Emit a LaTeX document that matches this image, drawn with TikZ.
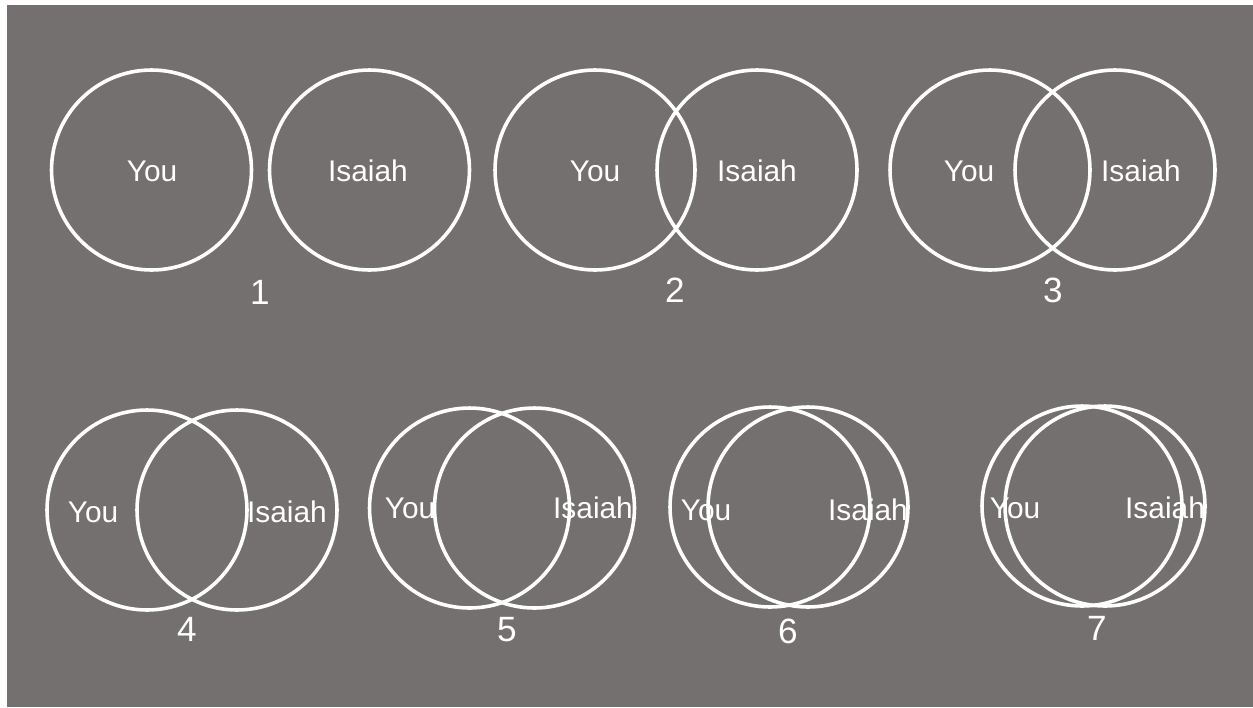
\documentclass[tikz,border=0pt]{standalone}
\usepackage{fontspec}
\setmainfont{Liberation Sans}
\usepackage{tikz}
\usetikzlibrary{positioning}
\definecolor{slate}{RGB}{116,112,111}

\begin{document}
\begin{tikzpicture}[x=0.02cm,y=-0.02cm,
  ring/.style={draw=white,line width=0.072cm,circle,minimum size=4cm,inner sep=0pt},
  person/.style={text=white,inner sep=0pt,font=\fontsize{17}{20}\selectfont},
  stagenum/.style={text=white,inner sep=0pt,font=\fontsize{20}{24}\selectfont}]
\useasboundingbox (0,0) rectangle (1253,707);
\fill[white] (0,0) rectangle (1253,707);
\fill[slate] (7,5) rectangle (1253,707);
% one panel per stage: circle centres, label positions, number
\foreach \k/\cy/\lx/\rx/\ty/\yx/\ix/\nx/\ny in {
  1/170/151.5/369.5/171/152/368/260/292,
  2/170/595/757/171/595/757/675/290,
  3/170/990/1115/171/969/1141/1053/290,
  4/510/147/237/512/93/287/187/629,
  5/508/469.5/534.5/508/410/593/507/630,
  6/507/770/808/510/706/868/788/631,
  7/506/1082/1105/508/1015/1165/1097/628}{
  \node[ring] (cyou\k) at (\lx,\cy) {};
  \node[ring] (cisa\k) at (\rx,\cy) {};
  \node[person] (you\k) at (\yx,\ty) {You};
  \node[person] (isa\k) at (\ix,\ty) {Isaiah};
  \node[stagenum] (num\k) at (\nx,\ny) {\k};
}
\end{tikzpicture}
\end{document}
